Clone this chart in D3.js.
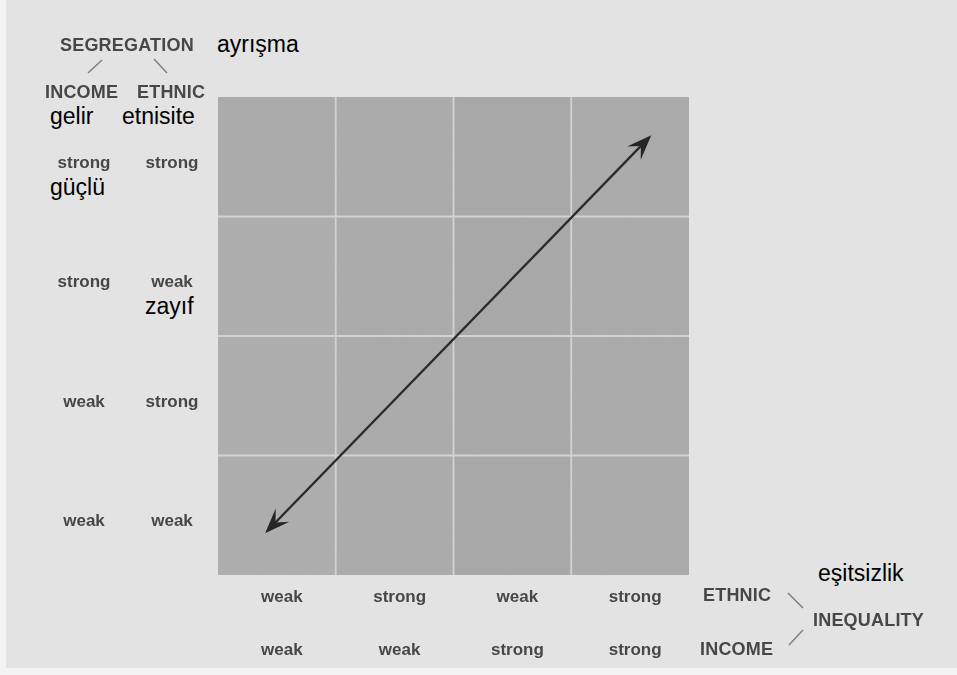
<!DOCTYPE html>
<html>
<head>
<meta charset="utf-8">
<script src="https://cdn.jsdelivr.net/npm/d3@7"></script>
<style>
  html, body { margin: 0; padding: 0; background: #f3f3f3; }
  svg { display: block; }
</style>
</head>
<body>
<svg id="chart" width="957" height="675"></svg>
<script>
// ---- data ----
const segregationIncome = ["strong", "strong", "weak", "weak"];   // rows, top to bottom
const segregationEthnic = ["strong", "weak", "strong", "weak"];
const inequalityEthnic = ["weak", "strong", "weak", "strong"];    // columns, left to right
const inequalityIncome = ["weak", "weak", "strong", "strong"];
const turkishNotes = { segregation: "ayrışma", income: "gelir", ethnic: "etnisite", strong: "güçlü", weak: "zayıf", inequality: "eşitsizlik" };
// arrow endpoints in grid units (columns, rows)
const arrowFrom = [0.40, 3.65];
const arrowTo = [3.68, 0.32];

const svg = d3.select("#chart");
const W = 957, H = 675;
const grid = { left: 218, top: 97, right: 689, bottom: 575 };

// paper
svg.append("rect").attr("x", 6).attr("y", 0).attr("width", W - 6).attr("height", 668).attr("fill", "#e3e3e3");

const defs = svg.append("defs");
defs.append("filter").attr("id", "soft")
  .append("feGaussianBlur").attr("stdDeviation", 0.5);
const noise = defs.append("filter").attr("id", "grain").attr("x", 0).attr("y", 0).attr("width", 1).attr("height", 1);
noise.append("feTurbulence").attr("type", "fractalNoise").attr("baseFrequency", 0.9).attr("numOctaves", 2).attr("seed", 3).attr("result", "t");
noise.append("feColorMatrix").attr("in", "t").attr("type", "matrix")
  .attr("values", "0 0 0 0 0.5  0 0 0 0 0.5  0 0 0 0 0.5  0 0 0 0.12 0").attr("result", "n");
noise.append("feComposite").attr("in", "n").attr("in2", "SourceGraphic").attr("operator", "in").attr("result", "nn");
noise.append("feMerge").selectAll("feMergeNode").data(["SourceGraphic", "nn"]).join("feMergeNode").attr("in", d => d);

const cols = d3.range(inequalityEthnic.length);
const rows = d3.range(segregationIncome.length);
const x = d3.scaleBand().domain(cols).range([grid.left, grid.right]).padding(0);
const y = d3.scaleBand().domain(rows).range([grid.top, grid.bottom]).padding(0);
const xu = d3.scaleLinear().domain([0, cols.length]).range([grid.left, grid.right]);
const yu = d3.scaleLinear().domain([0, rows.length]).range([grid.top, grid.bottom]);

// cells
const cells = [];
rows.forEach(r => cols.forEach(c => cells.push({ r, c })));
svg.append("g").attr("filter", "url(#grain)")
  .selectAll("rect").data(cells).join("rect")
  .attr("x", d => x(d.c)).attr("y", d => y(d.r))
  .attr("width", x.bandwidth()).attr("height", y.bandwidth())
  .attr("fill", d => d.c === 2 ? "#a7a7a7" : (d.c === 0 && d.r > 0 ? "#adadad" : "#aaaaaa"));

// white grid lines
const gl = svg.append("g").attr("stroke", "#d2d2d2").attr("stroke-width", 1.8);
gl.selectAll("line.v").data(cols.slice(1)).join("line").attr("class", "v")
  .attr("x1", d => x(d)).attr("x2", d => x(d)).attr("y1", grid.top).attr("y2", grid.bottom);
gl.selectAll("line.h").data(rows.slice(1)).join("line").attr("class", "h")
  .attr("y1", d => y(d)).attr("y2", d => y(d)).attr("x1", grid.left).attr("x2", grid.right);

// arrow
const ax1 = xu(arrowFrom[0]), ay1 = yu(arrowFrom[1]), ax2 = xu(arrowTo[0]), ay2 = yu(arrowTo[1]);
const ang = Math.atan2(ay2 - ay1, ax2 - ax1);
const headLen = 25, headW = 9.5, notch = 15;
function head(tx, ty, a) {
  const ux = Math.cos(a), uy = Math.sin(a), px = -uy, py = ux;
  const bx = tx - ux * headLen, by = ty - uy * headLen;
  const nx = tx - ux * notch, ny = ty - uy * notch;
  return `M${tx},${ty} L${bx + px * headW},${by + py * headW} L${nx},${ny} L${bx - px * headW},${by - py * headW} Z`;
}
const arrowG = svg.append("g").attr("filter", "url(#soft)");
arrowG.append("line")
  .attr("x1", ax1 + Math.cos(ang) * 10).attr("y1", ay1 + Math.sin(ang) * 10)
  .attr("x2", ax2 - Math.cos(ang) * 10).attr("y2", ay2 - Math.sin(ang) * 10)
  .attr("stroke", "#2b2b2b").attr("stroke-width", 2.3);
arrowG.append("path").attr("d", head(ax2, ay2, ang)).attr("fill", "#262626");
arrowG.append("path").attr("d", head(ax1, ay1, ang + Math.PI)).attr("fill", "#262626");

// scanned-style labels
const print = svg.append("g").attr("filter", "url(#soft)")
  .attr("font-family", "Liberation Sans, Arial, sans-serif").attr("font-weight", "bold").attr("fill", "#474747");

const rowLabelCols = [84, 172];
print.selectAll("text.ri").data(segregationIncome).join("text").attr("class", "ri")
  .attr("x", rowLabelCols[0]).attr("y", (d, i) => y(i) + y.bandwidth() / 2 + 11)
  .attr("text-anchor", "middle").attr("font-size", 17).text(d => d);
print.selectAll("text.re").data(segregationEthnic).join("text").attr("class", "re")
  .attr("x", rowLabelCols[1]).attr("y", (d, i) => y(i) + y.bandwidth() / 2 + 11)
  .attr("text-anchor", "middle").attr("font-size", 17).text(d => d);

print.selectAll("text.ce").data(inequalityEthnic).join("text").attr("class", "ce")
  .attr("x", (d, i) => x(i) + x.bandwidth() / 2 + 5).attr("y", 602)
  .attr("text-anchor", "middle").attr("font-size", 17).text(d => d);
print.selectAll("text.ci").data(inequalityIncome).join("text").attr("class", "ci")
  .attr("x", (d, i) => x(i) + x.bandwidth() / 2 + 5).attr("y", 655)
  .attr("text-anchor", "middle").attr("font-size", 17).text(d => d);

const caps = [
  { t: "SEGREGATION", x: 60, y: 51 },
  { t: "INCOME", x: 45, y: 98 },
  { t: "ETHNIC", x: 137, y: 98 },
  { t: "ETHNIC", x: 703, y: 601 },
  { t: "INCOME", x: 700, y: 655 },
  { t: "INEQUALITY", x: 813, y: 626 }
];
print.selectAll("text.cap").data(caps).join("text").attr("class", "cap")
  .attr("x", d => d.x).attr("y", d => d.y).attr("font-size", 18).attr("letter-spacing", 0.2).text(d => d.t);

// connector strokes
const strokes = [[88, 73, 102, 60], [154, 59, 167, 73], [788, 593, 803, 608], [789, 645, 803, 630]];
print.selectAll("line.k").data(strokes).join("line").attr("class", "k")
  .attr("x1", d => d[0]).attr("y1", d => d[1]).attr("x2", d => d[2]).attr("y2", d => d[3])
  .attr("stroke", "#808080").attr("stroke-width", 1.5);

// Turkish annotations
const tr = [
  { t: turkishNotes.segregation, x: 217, y: 52 },
  { t: turkishNotes.income, x: 50, y: 124 },
  { t: turkishNotes.ethnic, x: 122, y: 124 },
  { t: turkishNotes.strong, x: 50, y: 195 },
  { t: turkishNotes.weak, x: 145, y: 314 },
  { t: turkishNotes.inequality, x: 818, y: 581 }
];
svg.append("g").attr("font-family", "Liberation Sans, Arial, sans-serif").attr("fill", "#000")
  .selectAll("text").data(tr).join("text")
  .attr("x", d => d.x).attr("y", d => d.y).attr("font-size", 23).text(d => d.t);
</script>
</body>
</html>
